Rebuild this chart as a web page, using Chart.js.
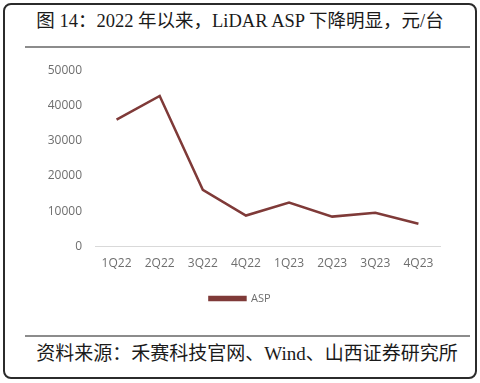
<!DOCTYPE html>
<html>
<head>
<meta charset="utf-8">
<script src="https://cdn.jsdelivr.net/npm/chart.js@4"></script>
<style>
  body { margin: 0; width: 480px; height: 383px; background: #fff; overflow: hidden; }
  .frame { position: absolute; left: 3px; top: 3px; width: 470px; height: 372px;
           border: 2px solid #2b2b2b; border-radius: 8px; }
  .title { position: absolute; left: 0; top: 6px; width: 480px; text-align: center;
           font: 18.5px "Liberation Serif", "Noto Sans CJK SC"; color: #1a1a1a; }
  .rule { position: absolute; left: 25px; width: 445px; height: 2px; background: #8c8c8c; }
  .source { position: absolute; left: 0; top: 338px; width: 494px; text-align: center;
            font: 19px "Liberation Serif", "Noto Sans CJK SC"; color: #1a1a1a; }
  .chartbox { position: absolute; left: 0; top: 50px; width: 480px; height: 272px; }
</style>
</head>
<body>
<div class="frame"></div>
<div class="title">图 14：2022 年以来，LiDAR ASP 下降明显，元/台</div>
<div class="rule" style="top:46px"></div>
<div class="chartbox"><canvas id="chart"></canvas></div>
<div class="rule" style="top:335px"></div>
<div class="source">资料来源：禾赛科技官网、Wind、山西证券研究所</div>
<script>
const quarters = ['1Q22', '2Q22', '3Q22', '4Q22', '1Q23', '2Q23', '3Q23', '4Q23']
const asp = [36000, 42700, 16100, 8800, 12500, 8500, 9600, 6500]
const yTicks = [0, 10000, 20000, 30000, 40000, 50000]

const lineColor = '#7f3a38'
const tickColor = '#6e6e6e'

new Chart(document.getElementById('chart'), {
  type: 'line',
  data: {
    labels: quarters,
    datasets: [{
      label: 'ASP',
      data: asp,
      borderColor: lineColor,
      backgroundColor: lineColor,
      borderWidth: 2.5,
      pointRadius: 0,
      tension: 0
    }]
  },
  options: {
    responsive: true,
    maintainAspectRatio: false,
    animation: false,
    layout: { padding: { left: 40, right: 40, top: 12, bottom: 8 } },
    plugins: {
      legend: {
        position: 'bottom',
        labels: {
          boxWidth: 36,
          boxHeight: 3,
          color: tickColor,
          font: { family: 'Open Sans', size: 11 },
          padding: 12
        }
      },
      tooltip: { enabled: false }
    },
    scales: {
      y: {
        min: 0,
        max: 50000,
        afterBuildTicks: axis => { axis.ticks = yTicks.map(v => ({ value: v })) },
        afterFit: axis => { axis.width = 55 },
        grid: { display: false, drawTicks: false },
        border: { display: false },
        ticks: {
          color: tickColor,
          font: { family: 'Open Sans', size: 12 },
          padding: 13,
          callback: value => String(value)
        }
      },
      x: {
        offset: true,
        grid: { display: false, drawTicks: false, offset: true },
        border: { display: true, color: '#d9d9d9', width: 1 },
        ticks: {
          color: tickColor,
          font: { family: 'Open Sans', size: 12 },
          padding: 10
        }
      }
    }
  }
})
</script>
</body>
</html>
